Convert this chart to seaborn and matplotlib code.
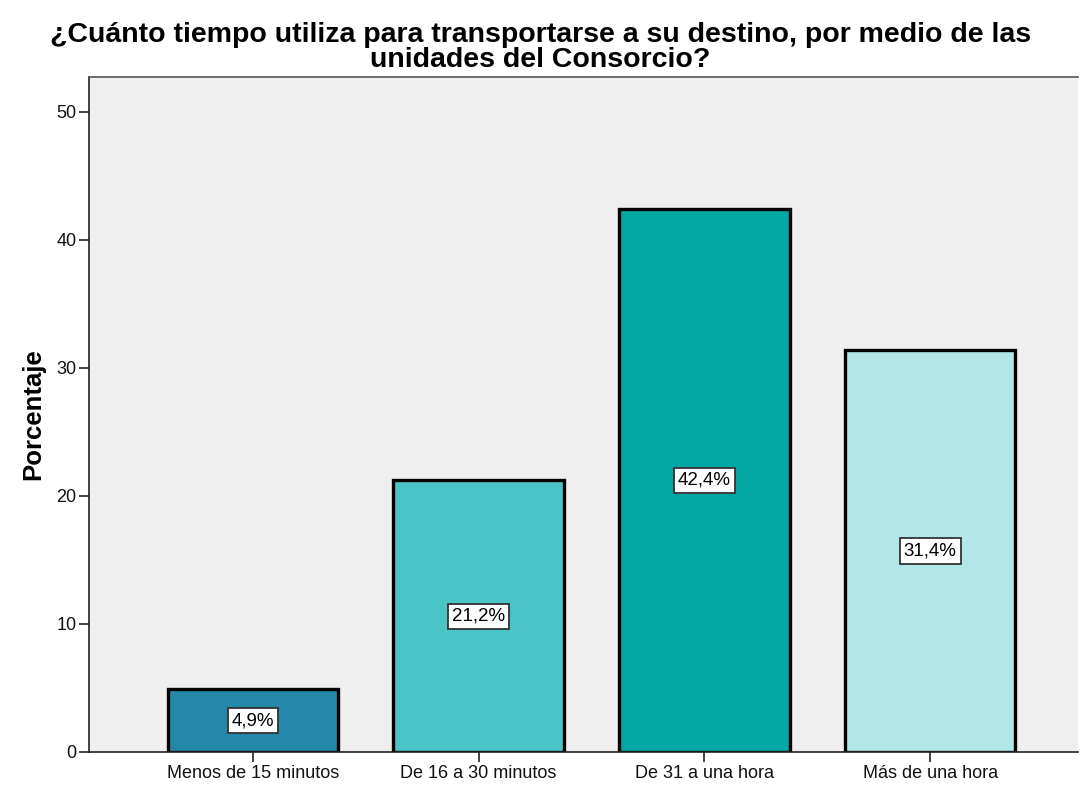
import matplotlib.pyplot as plt
import seaborn as sns
import pandas as pd

categories = ['Menos de 15 minutos', 'De 16 a 30 minutos', 'De 31 a una hora', 'Más de una hora']
percentages = [4.9, 21.2, 42.4, 31.4]
bar_colors = ['#2488a9', '#4ac4c6', '#00a7a5', '#b3e6e6']

df = pd.DataFrame({'categoria': categories, 'porcentaje': percentages})

sns.set_style('white')
plt.rcParams['font.family'] = ['Liberation Sans', 'DejaVu Sans']

fig = plt.figure(figsize=(10.81, 7.87), dpi=100)
ax = fig.add_axes([89 / 1081, 35 / 787, 989 / 1081, 675 / 787])
ax.set_facecolor('#efefef')

sns.barplot(data=df, x='categoria', y='porcentaje', hue='categoria',
            palette=bar_colors, legend=False, width=0.755,
            edgecolor='black', linewidth=2.4, saturation=1, ax=ax)

# value labels in white boxes at mid-height
for i, v in enumerate(percentages):
    ax.text(i, v / 2, f"{v:.1f}%".replace('.', ','), ha='center', va='center',
            fontsize=13.5, color='black',
            bbox=dict(boxstyle='square,pad=0.22', facecolor='white',
                      edgecolor='#333333', linewidth=1.3))

ax.set_xlim(-0.726, 3.655)
ax.set_ylim(0, 52.7)
ax.set_yticks([0, 10, 20, 30, 40, 50])
ax.tick_params(axis='both', direction='out', length=7, width=1.2,
               color='#222222', labelcolor='#111111', labelsize=13,
               left=True, bottom=True, pad=2)
ax.set_xlabel('')
ax.set_ylabel('Porcentaje', fontsize=18.5, fontweight='bold', labelpad=8, color='black')

for side in ['left', 'bottom']:
    ax.spines[side].set_color('#222222')
    ax.spines[side].set_linewidth(1.2)
ax.spines['top'].set_color('#555555')
ax.spines['top'].set_linewidth(1.2)
ax.spines['right'].set_visible(False)

fig.suptitle('¿Cuánto tiempo utiliza para transportarse a su destino, por medio de las\nunidades del Consorcio?',
             fontsize=20.5, fontweight='bold', y=0.972, linespacing=0.95, color='black')

fig.savefig('out.png', dpi=100)
